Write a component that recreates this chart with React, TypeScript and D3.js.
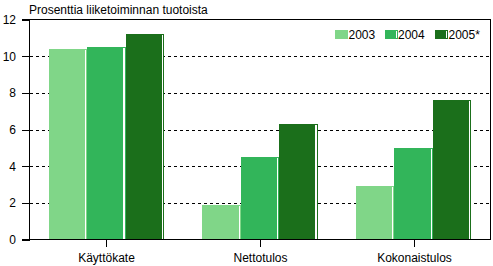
import React from "react";
import * as d3 from "d3";

const categories = ["Käyttökate", "Nettotulos", "Kokonaistulos"];
const seriesNames = ["2003", "2004", "2005*"];
const values2003 = [10.4, 1.9, 2.9];
const values2004 = [10.5, 4.5, 5.0];
const values2005 = [11.2, 6.3, 7.6];
const yTicks = [0, 2, 4, 6, 8, 10, 12];
const colors = ["#80d688", "#32b55a", "#1b6f1b"];
const title = "Prosenttia liiketoiminnan tuotoista";

const W = 493;
const H = 266;
const L = 29.5;
const R = 490.5;
const T = 19.5;
const B = 239.5;
const FONT = "'Liberation Sans', Arial, sans-serif";

export default function App() {
  const series = [values2003, values2004, values2005];
  const x = d3.scaleBand<string>().domain(categories).range([L, R]).paddingInner(0.25).paddingOuter(0.125);
  const x1 = d3.scaleBand<string>().domain(seriesNames).range([0, x.bandwidth()]).padding(0);
  const y = d3.scaleLinear().domain([0, 12]).range([B, T]);
  const legendX = [335, 384.5, 435];

  return (
    <svg width={W} height={H} style={{ position: "absolute", left: 0, top: 0, background: "#fff" }} fontFamily={FONT}>
      <text x={29} y={14} fontSize={12} fill="#000">{title}</text>
      {/* grid */}
      {yTicks.filter((t) => t > 0 && t < 12).map((t) => (
        <line key={"g" + t} x1={L} x2={R} y1={Math.round(y(t)) + 0.5} y2={Math.round(y(t)) + 0.5}
          stroke="#000" strokeDasharray="3,3" shapeRendering="crispEdges" />
      ))}
      {/* bars */}
      {categories.map((c, ci) => (
        <g key={c}>
          {seriesNames.map((s, si) => {
            const bx = (x(c) as number) + (x1(s) as number);
            const bw = x1.bandwidth();
            const v = series[si][ci];
            const by = y(v);
            return (
              <g key={s}>
                <rect x={bx} y={by} width={bw} height={B - by} fill={colors[si]} shapeRendering="crispEdges" />
                <rect x={bx + bw - 2.2} y={by + 1} width={1.2} height={B - by - 1} fill="#fff" shapeRendering="crispEdges" />
              </g>
            );
          })}
        </g>
      ))}
      {/* frame */}
      <line x1={22} x2={R} y1={T} y2={T} stroke="#000" shapeRendering="crispEdges" />
      <line x1={22} x2={R} y1={B} y2={B} stroke="#000" shapeRendering="crispEdges" />
      <line x1={L} x2={L} y1={T} y2={B} stroke="#000" shapeRendering="crispEdges" />
      <line x1={R} x2={R} y1={T} y2={B} stroke="#000" shapeRendering="crispEdges" />
      {/* y ticks */}
      {yTicks.map((t) => (
        <g key={"t" + t}>
          <line x1={22} x2={L} y1={Math.round(y(t)) + 0.5} y2={Math.round(y(t)) + 0.5} stroke="#000" shapeRendering="crispEdges" />
          <text x={16} y={y(t) + 4.5} fontSize={12} textAnchor="end" fill="#000">{t}</text>
        </g>
      ))}
      {/* x ticks */}
      {categories.map((c) => {
        const cx = Math.round((x(c) as number) + x.bandwidth() / 2) + 0.5;
        return (
          <g key={"x" + c}>
            <line x1={cx} x2={cx} y1={B} y2={246.5} stroke="#000" shapeRendering="crispEdges" />
            <text x={cx} y={262} fontSize={12} textAnchor="middle" fill="#000">{c}</text>
          </g>
        );
      })}
      {/* legend */}
      {seriesNames.map((s, si) => (
        <g key={"l" + s}>
          <rect x={legendX[si]} y={30} width={13} height={8.5} fill={colors[si]} shapeRendering="crispEdges" />
          {si > 0 && <rect x={legendX[si] + 11} y={31} width={1.2} height={6.5} fill="#fff" shapeRendering="crispEdges" />}
          <text x={legendX[si] + 13.5} y={38.5} fontSize={12} fill="#000">{s}</text>
        </g>
      ))}
    </svg>
  );
}
